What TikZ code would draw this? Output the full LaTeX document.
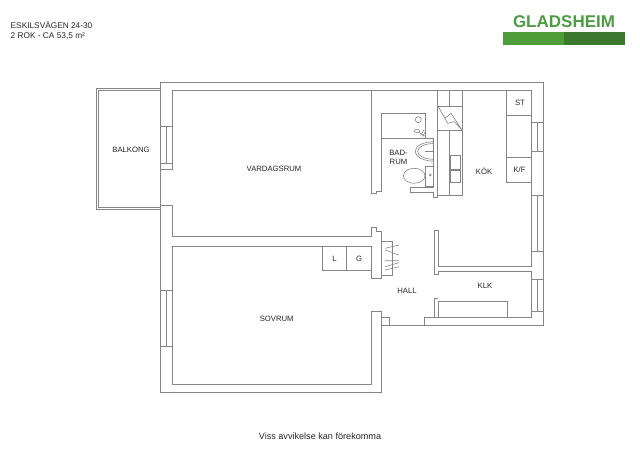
\documentclass[tikz,border=0pt]{standalone}
\usepackage{fontspec}
\setmainfont{Liberation Sans}
\usetikzlibrary{positioning}
\definecolor{logoLight}{HTML}{4F9C3A}
\definecolor{logoDark}{HTML}{3B7A2E}
\definecolor{logoText}{HTML}{4F9A45}
\definecolor{wallGray}{HTML}{858585}
\begin{document}
\begin{tikzpicture}[
    % GLOBAL CFG
    x=1pt, y=-1pt,
    % Styles
    wall/.style={% For walls and fittings
        draw=wallGray,
        line width=.8pt,
        },
    thin wall/.style={% For the inside of windows and furniture
        draw=wallGray,
        line width=.6pt,
        },
    roomlabel/.style={% Room names
        font=\fontsize{7.7}{9.2}\selectfont,
        text=black!85,
        align=center,
        inner sep=0pt,
        },
    ]

    \useasboundingbox (0,0) rectangle (640,452);

    % Draw the header
    \node [roomlabel, anchor=north west, align=left, font=\fontsize{8.3}{10}\selectfont] (address) at (10.5,21.5) {ESKILSVÄGEN 24-30\\2 ROK - CA 53,5 m²};
    \node [anchor=base, inner sep=0pt, font=\fontsize{17}{17}\selectfont\bfseries, text=logoText] (logo) at (564,27.3) {GLADSHEIM};
    \fill [logoLight] (503,31.7) rectangle (564,44.7);
    \fill [logoDark] (564,31.7) rectangle (625,44.7);

    % Outer wall
    \draw [wall] (381.7,325.7) -- (543.5,325.7) -- (543.5,82.7) -- (160.6,82.7) -- (160.6,392.3) -- (381.7,392.3) -- (381.7,317.3) -- (389,317.3) -- (389,325.7);
    % Balcony
    \draw [wall] (160.6,88.3) -- (96,88.3) -- (96,209.3) -- (160.6,209.3);
    \draw [thin wall] (160.6,90) -- (98,90) -- (98,207.3) -- (160.6,207.3);

    % Living room
    \draw [wall] (371,193.3) -- (371,90.7) -- (172.5,90.7) -- (172.5,169.3);
    \draw [wall] (160.6,205) -- (172.5,205) -- (172.5,236.7) -- (371,236.7) -- (371,227.3) -- (376.7,227.3) -- (376.7,231.7) -- (381.7,231.7) -- (381.7,278.3) -- (371,278.3) -- (371,246.7) -- (172.5,246.7) -- (172.5,384.3) -- (371,384.3) -- (371,311.7) -- (381.7,311.7) -- (381.7,317.3);

    % Top of the opening to the bathroom
    \draw [wall] (371,193.3) -- (376.7,193.3) -- (376.7,191) -- (381.7,191) -- (381.7,113.3) -- (425,113.3) -- (425,138.3);
    \draw [wall] (381.7,138.3) -- (433.5,138.3) -- (433.5,187.5) -- (410.7,187.5) -- (410.7,192) -- (433.5,192) -- (433.5,197.7) -- (437.7,197.7);

    % Windows on the left
    \draw [thin wall] (160.6,126.7) -- (172.5,126.7);
    \draw [thin wall] (160.6,163.5) -- (172.5,163.5);
    \draw [thin wall] (160.6,169.3) -- (172.5,169.3);
    \draw [thin wall] (166.6,126.7) -- (166.6,163.5);
    \draw [thin wall] (160.6,290.3) -- (172.5,290.3);
    \draw [thin wall] (160.6,346) -- (172.5,346);
    \draw [thin wall] (166.4,290.3) -- (166.4,346);

    % Windows on the right
    \draw [thin wall] (531.5,122) -- (543.5,122) (537.5,122) -- (537.5,151.3) (531.5,151.3) -- (543.5,151.3);
    \draw [thin wall] (531.5,195.3) -- (543.5,195.3) (537.5,195.3) -- (537.5,251.7) (531.5,251.7) -- (543.5,251.7);
    \draw [thin wall] (531.5,279.3) -- (543.5,279.3) (537.5,279.3) -- (537.5,311) (531.5,311) -- (543.5,311);

    % Kitchen and the storage room
    \draw [wall] (371,90.7) -- (531.5,90.7) -- (531.5,266.7) -- (438,266.7) -- (438,230.7) -- (434,230.7) -- (434,274) -- (438,274) -- (438,271.3) -- (531.5,271.3) -- (531.5,317.3) -- (424,317.3) -- (424,325.7);
    \draw [wall] (437.7,90.7) -- (437.7,197.7);
    \draw [thin wall] (438,317.3) -- (438,301.3) -- (507.3,301.3) -- (507.3,317.3);
    \draw [thin wall] (434,317.3) -- (434,298.3) -- (438,298.3);

    % Counter and shaft
    \draw [thin wall] (462,90.7) -- (462,195.3) -- (437.7,195.3);
    \draw [thin wall] (449.7,90.7) -- (449.7,105.8) (449.7,130) -- (449.7,195.3);
    \draw [thin wall] (437.7,105.8) -- (462,105.8) (437.7,130) -- (462,130);
    \draw [thin wall] (437.7,105.8) -- (445,118.3) -- (451,113.3) -- (462,130) -- (454.3,121.7) -- (447.7,123.3) -- cycle;
    \draw [thin wall] (450,155.3) rectangle (460,169.3) (450,170.7) rectangle (460,182.7);

    % Cupboards on the right
    \draw [thin wall] (506.3,90.7) -- (506.3,182.7) -- (531.5,182.7);
    \draw [thin wall] (506.3,115) -- (531.5,115) (506.3,157.3) -- (531.5,157.3);

    % Bathroom
    \draw [thin wall] (418.3,119.7) circle (3);
    \draw [thin wall] (417,131) ellipse (2.6 and 1.7) (419,132.3) -- (424.5,136);
    \draw [thin wall] (420.5,135.5) -- (424,130) (422.5,136.5) -- (425.5,131.5);
    \draw [thin wall] (433.5,141.7) arc [start angle=270, end angle=90, x radius=18.3, y radius=9.7];
    \draw [thin wall] (433.5,143.5) arc [start angle=270, end angle=90, x radius=15.8, y radius=7.9];
    \draw [thin wall] (425,151.6) -- (433.5,151.6);
    \draw [thin wall] (425,166) rectangle (433.5,186);
    \draw [thin wall] (414.2,175.8) ellipse (10.8 and 7.5);
    \draw [thin wall] (430.3,175) circle (.9);

    % Coat rack
    \draw [thin wall] (381.7,241.5) -- (392.3,241.5) -- (392.3,275) -- (381.7,275);
    \draw [thin wall] (385,248.3) -- (399,245) (385,250) -- (399,255) (385,260.7) -- (399,260.7) (385,266.7) -- (399,262.7) (385,270) -- (399,266.7);

    % Closets
    \draw [thin wall] (322,246.7) -- (322,270.7) -- (371,270.7) (346.7,246.7) -- (346.7,270.7);

    % Room names
    \node [roomlabel] (balkong) at (131,150) {BALKONG};
    \node [roomlabel] (vardagsrum) at (274,169) {VARDAGSRUM};
    \node [roomlabel] (badrum) at (398.5,157) {BAD-\\RUM};
    \node [roomlabel] (kok) at (484,171.7) {KÖK};
    \node [roomlabel] (st) at (520,103) {ST};
    \node [roomlabel] (kf) at (519.5,169.3) {K/F};
    \node [roomlabel] (l) at (334.5,258.7) {L};
    \node [roomlabel] (g) at (359,258.7) {G};
    \node [roomlabel] (hall) at (407,291) {HALL};
    \node [roomlabel] (klk) at (485,285.5) {KLK};
    \node [roomlabel] (sovrum) at (276.7,318.5) {SOVRUM};
    \node [roomlabel, font=\fontsize{9.1}{11}\selectfont] (note) at (320,436.5) {Viss avvikelse kan förekomma};

\end{tikzpicture}
\end{document}
